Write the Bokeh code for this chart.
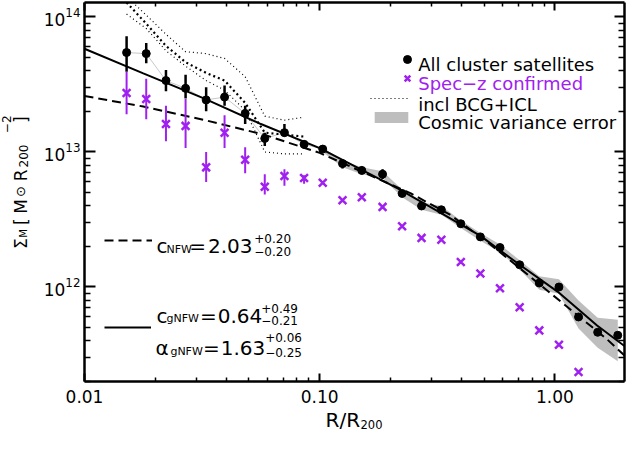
import numpy as np
from bokeh.plotting import figure
from bokeh.layouts import column, row
from bokeh.models import (Range1d, LogAxis, FixedTicker, CustomJSTickFormatter,
                          LogTickFormatter, Label, Legend, LegendItem)
from bokeh.core.properties import value
from bokeh.embed import file_html
from bokeh.resources import INLINE

UNIT = 1e13  # values below are in units of 1e13 Msun R200^-2

# ---------------- data ----------------
r_bins = [0.0151, 0.0183, 0.0222, 0.0269, 0.0329, 0.0394, 0.0482, 0.0584, 0.0708, 0.0858,
          0.103, 0.125, 0.151, 0.185, 0.224, 0.271, 0.329, 0.398, 0.482, 0.584,
          0.708, 0.858, 1.04, 1.26, 1.52, 1.85]

sigma_all = [5.45, 5.35, 3.38, 2.96, 2.43, 2.55, 1.93, 1.26, 1.39, 1.14,
             1.05, 0.82, 0.73, 0.685, 0.493, 0.398, 0.373, 0.294, 0.235, 0.196,
             0.146, 0.107, 0.100, 0.060, 0.0462, 0.0439]
sigma_all_hi = [7.21, 6.41, 4.05, 3.73, 3.01, 3.11, 2.20, 1.39, 1.61, 1.20,
                1.12, 0.876, 0.78, 0.744, 0.518, 0.418, 0.392, 0.309, 0.247, 0.206,
                0.153, 0.112, 0.105, 0.063, 0.0485, 0.0461]
sigma_all_lo = [3.92, 4.54, 2.82, 2.49, 2.00, 2.20, 1.61, 1.105, 1.30, 1.067,
                1.00, 0.755, 0.683, 0.631, 0.469, 0.379, 0.355, 0.280, 0.224, 0.187,
                0.139, 0.102, 0.0952, 0.0571, 0.044, 0.0418]

sigma_spec = [2.73, 2.47, 1.61, 1.56, 0.769, 1.39, 0.877, 0.553, 0.663, 0.641,
              0.591, 0.439, 0.462, 0.392, 0.282, 0.231, 0.224, 0.153, 0.126, 0.098,
              0.0708, 0.0477, 0.0373, 0.0235, 0.0181, 0.0176]
sigma_spec_hi = [3.92, 3.49, 2.20, 2.47, 1.00, 1.87, 1.086, 0.685, 0.744, 0.673]
sigma_spec_lo = [1.90, 1.75, 1.20, 1.07, 0.60, 1.07, 0.696, 0.485, 0.562, 0.581]

# incl. BCG+ICL (inner 10 bins)
bcg_mean = [12.8, 8.91, 6.11, 4.62, 3.85, 3.38, 2.31, 1.39, 1.345, 1.30]
bcg_hi = [14.13, 10.33, 7.44, 5.53, 5.35, 4.93, 3.61, 1.84, 1.72, 1.81]
bcg_lo = [10.5, 8.21, 5.62, 4.32, 3.38, 2.87, 2.03, 1.00, 0.968, 0.968]

# cosmic variance band (bins 11..26)
cv_hi = [1.086, 0.862, 0.769, 0.720, 0.527, 0.425, 0.398, 0.311, 0.251, 0.206,
         0.158, 0.120, 0.114, 0.0794, 0.0591, 0.0572]
cv_lo = [1.0, 0.769, 0.685, 0.641, 0.462, 0.373, 0.343, 0.273, 0.220, 0.181,
         0.1345, 0.0952, 0.0891, 0.0493, 0.0355, 0.0282]

# best-fit profiles
fit_r_gnfw = [0.01, 0.01778, 0.03254, 0.05623, 0.1, 0.2154, 0.3255, 0.4824, 0.7079, 1.029, 1.511, 1.995]
fit_gnfw = [5.81, 3.82, 2.47, 1.61, 1.069, 0.535, 0.355, 0.239, 0.146, 0.0921, 0.0518, 0.0361]
fit_r_nfw = [0.01, 0.01778, 0.03254, 0.05786, 0.1, 0.2441, 0.3581, 0.5257, 0.7720, 1.133, 1.663, 1.995]
fit_nfw = [2.60, 2.17, 1.72, 1.345, 0.984, 0.493, 0.343, 0.210, 0.122, 0.0708, 0.0411, 0.0306]

x_ticks = [0.01, 0.1, 1.0]
x_minor = [0.02, 0.03, 0.04, 0.05, 0.06, 0.07, 0.08, 0.09,
           0.2, 0.3, 0.4, 0.5, 0.6, 0.7, 0.8, 0.9, 2.0]
y_ticks = [1e12, 1e13, 1e14]
y_minor = [2e11, 3e11, 4e11, 5e11, 6e11, 7e11, 8e11, 9e11,
           2e12, 3e12, 4e12, 5e12, 6e12, 7e12, 8e12, 9e12,
           2e13, 3e13, 4e13, 5e13, 6e13, 7e13, 8e13, 9e13]

PURPLE = "#a020f0"
FONT = "DejaVu Sans"


def u(a):
    return [v * UNIT for v in a]


# ---------------- layout geometry (canvas pixels) ----------------
YT_W = 40                 # width of the y-title strip
MAIN_W, MAIN_H = 586, 409
XT_H = 25                 # height of the x-title strip
KX, KY = 544 / 551, 379 / 392  # reference-pixel -> frame-pixel scale
GLYPH_SHIFT = 8           # text glyphs render this much "below" their baseline anchor

# ---------------- main figure ----------------
p = figure(width=MAIN_W, height=MAIN_H, x_axis_type="log", y_axis_type="log",
           x_range=Range1d(0.01, 10 ** 0.2958), y_range=Range1d(10 ** 11.3, 10 ** 14.107),
           output_backend="svg", toolbar_location=None,
           min_border_left=40, min_border_right=2, min_border_top=2, min_border_bottom=28)
p.outline_line_color = None
p.xgrid.visible = False
p.ygrid.visible = False
p.background_fill_color = "white"
p.border_fill_color = "white"


def style_axis(ax, major_in, minor_in):
    ax.axis_line_width = 2.5
    ax.axis_line_color = "black"
    ax.major_tick_in = major_in
    ax.major_tick_out = 0
    ax.minor_tick_in = minor_in
    ax.minor_tick_out = 0
    ax.major_tick_line_width = 2
    ax.minor_tick_line_width = 1.5
    ax.major_tick_line_color = "black"
    ax.minor_tick_line_color = "black"
    ax.major_label_text_font = FONT
    ax.major_label_text_font_size = "17px"
    ax.major_label_text_color = "black"


xb = p.xaxis[0]
xb.ticker = FixedTicker(ticks=x_ticks, minor_ticks=x_minor)
xb.formatter = CustomJSTickFormatter(code="return tick.toFixed(2);")
style_axis(xb, 8, 4)
xb.major_label_standoff = 8

yl = p.yaxis[0]
yl.ticker = FixedTicker(ticks=y_ticks, minor_ticks=y_minor)
yl.formatter = LogTickFormatter()
style_axis(yl, 11, 6)
yl.major_label_standoff = 4

xt = LogAxis(ticker=FixedTicker(ticks=x_ticks, minor_ticks=x_minor),
             formatter=CustomJSTickFormatter(code="return '';"))
style_axis(xt, 8, 4)
xt.major_label_text_font_size = "0px"
xt.major_label_standoff = 0
p.add_layout(xt, "above")

yr = LogAxis(ticker=FixedTicker(ticks=y_ticks, minor_ticks=y_minor),
             formatter=CustomJSTickFormatter(code="return '';"))
style_axis(yr, 10, 6)
yr.major_label_text_font_size = "0px"
yr.major_label_standoff = 0
p.add_layout(yr, "right")

# ---------------- glyphs ----------------
band = p.varea(x=r_bins[10:], y1=u(cv_lo), y2=u(cv_hi), fill_color="#bebebe", fill_alpha=1.0)
p.line(r_bins, u(sigma_all), line_color="#c8c8c8", line_width=1)

env_hi = p.line(r_bins[:10], u(bcg_hi), line_color="black", line_width=1.2, line_dash="1 3")
env_lo = p.line(r_bins[:10], u(bcg_lo), line_color="black", line_width=1.2, line_dash="1 3")
mean_bcg = p.line(r_bins[:10], u(bcg_mean), line_color="black", line_width=2.2, line_dash="2 3")

nfw = p.line(fit_r_nfw, u(fit_nfw), line_color="black", line_width=2, line_dash="9 5")
gnfw = p.line(fit_r_gnfw, u(fit_gnfw), line_color="black", line_width=2)

p.segment(x0=r_bins, y0=u(sigma_all_lo), x1=r_bins, y1=u(sigma_all_hi),
          line_color="black", line_width=2.5)
all_pts = p.scatter(r_bins, u(sigma_all), marker="circle", size=8,
                    fill_color="black", line_color="black")

p.segment(x0=r_bins[:10], y0=u(sigma_spec_lo), x1=r_bins[:10], y1=u(sigma_spec_hi),
          line_color=PURPLE, line_width=2)
spec_pts = p.scatter(r_bins, u(sigma_spec), marker="x", size=11,
                     line_color=PURPLE, line_width=2.5)


# ---------------- in-frame annotations ----------------
def add_text(X, Y, text, size, color="black"):
    p.add_layout(Label(x=(X - 80) * KX, y=(393 - Y) * KY, x_units="screen", y_units="screen",
                       text=text, text_font=FONT, text_font_size=f"{size}px",
                       text_color=color, text_baseline="alphabetic", text_align="left"))


def glyph_key(renderer, x_left, y_center, w, h):
    leg = Legend(items=[LegendItem(label="", renderers=[renderer])],
                 location=((x_left - 80) * KX, (393 - y_center) * KY - h / 2),
                 glyph_width=w, glyph_height=h, label_text_font_size="1px",
                 label_height=1, label_width=1, label_standoff=0,
                 padding=0, margin=0, spacing=0,
                 border_line_alpha=0, background_fill_alpha=0)
    p.add_layout(leg)


# legend (top right)
glyph_key(all_pts, 397, 60, 20, 20)
glyph_key(spec_pts, 397, 80, 20, 20)
glyph_key(env_hi, 370, 100, 40, 10)
glyph_key(band, 370, 120, 42, 14)
add_text(418, 65, "All cluster satellites", 18)
add_text(418, 85, "Spec\u2212z confirmed", 18, PURPLE)
add_text(418, 106, "incl BCG+ICL", 18)
add_text(418, 125, "Cosmic variance error", 18)

# NFW fit annotation
glyph_key(nfw, 100, 247, 48, 10)
add_text(153, 253, "c", 20)
add_text(163, 256, "NFW", 11)
add_text(186, 253, "=", 20)
add_text(205, 253, "2.03", 20)
add_text(252, 245, "+0.20", 12)
add_text(252, 259, "\u22120.20", 12)

# gNFW fit annotation
glyph_key(gnfw, 100, 337, 47, 10)
add_text(153, 325, "c", 20)
add_text(163, 328, "gNFW", 11)
add_text(197, 325, "=", 20)
add_text(215, 325, "0.64", 20)
add_text(259, 317, "+0.49", 12)
add_text(259, 330, "\u22120.21", 12)
add_text(152, 358, "\u03b1", 20)
add_text(167, 362, "gNFW", 11)
add_text(200, 358, "=", 20)
add_text(218, 358, "1.63", 20)
add_text(263, 348, "+0.06", 12)
add_text(263, 363, "\u22120.25", 12)

# ---------------- y-axis title strip ----------------
yfig = figure(width=YT_W, height=MAIN_H, x_range=Range1d(0, YT_W), y_range=Range1d(0, MAIN_H),
              output_backend="svg", toolbar_location=None, min_border=0, title=None)
yfig.axis.visible = False
yfig.grid.visible = False
yfig.outline_line_color = None
yfig.border_fill_color = "white"

A = np.pi / 2
ytitle_parts = [  # (visual baseline x, start y on page, text, size)
    (28, 266, "\u03a3", 17),
    (31, 254, "M", 10),
    (28, 240, "[", 17),
    (28, 228, "M", 17),
    (28, 210, "\u2299", 13),
    (28, 193, "R", 17),
    (31, 178, "200", 12),
    (14, 141, "\u22122", 12),
    (28, 130, "]", 17),
]
for bx, sy, t, s in ytitle_parts:
    yfig.text(x=[bx - GLYPH_SHIFT], y=[MAIN_H - sy], text=[t], angle=A,
              text_font=value(FONT), text_font_size=value(f"{s}px"),
              text_color="black", text_baseline="alphabetic", text_align="left")

# ---------------- x-axis title strip ----------------
TOT_W = YT_W + MAIN_W
xfig = figure(width=TOT_W, height=XT_H, x_range=Range1d(0, TOT_W), y_range=Range1d(0, XT_H),
              output_backend="svg", toolbar_location=None, min_border=0, title=None)
xfig.axis.visible = False
xfig.grid.visible = False
xfig.outline_line_color = None
xfig.border_fill_color = "white"
BOTTOM = MAIN_H + XT_H
xfig.text(x=[325], y=[BOTTOM - 427 + GLYPH_SHIFT], text=["R/R"],
          text_font=value(FONT), text_font_size=value("20px"),
          text_color="black", text_baseline="alphabetic", text_align="left")
xfig.text(x=[360], y=[BOTTOM - 431.5 + GLYPH_SHIFT], text=["200"],
          text_font=value(FONT), text_font_size=value("11.5px"),
          text_color="black", text_baseline="alphabetic", text_align="left")

layout = column(row(yfig, p, spacing=0), xfig, spacing=0)

open("out.html", "w").write(file_html(layout, INLINE))
